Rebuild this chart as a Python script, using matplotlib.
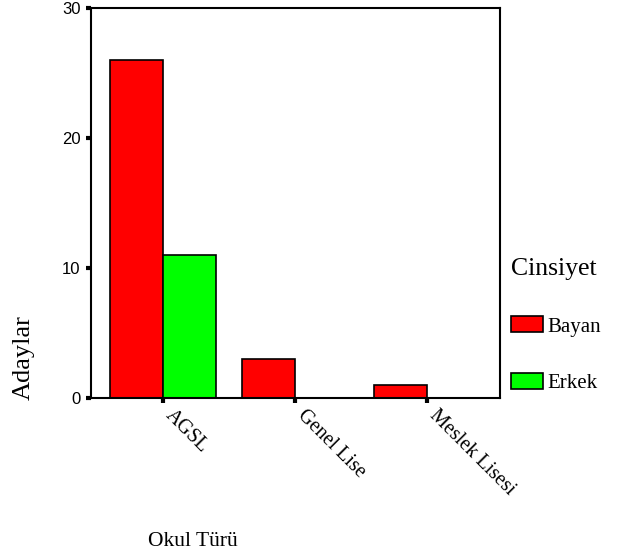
import numpy as np
import matplotlib
matplotlib.use("Agg")
import matplotlib.pyplot as plt
from matplotlib.transforms import ScaledTranslation

# data
categories = ["AGSL", "Genel Lise", "Meslek Lisesi"]
bayan = [26, 3, 1]
erkek = [11, 0, 0]
series_names = ["Bayan", "Erkek"]
yticks = [0, 10, 20, 30]

W, H = 625, 553
fig = plt.figure(figsize=(W / 100, H / 100), dpi=100)
ax = fig.add_axes([91 / W, (H - 398) / H, (500 - 91) / W, 390 / H])

x = np.arange(len(categories))
w = 0.4
b1 = ax.bar(x - w / 2, bayan, w, color="#ff0000", edgecolor="black", linewidth=1.2, label=series_names[0])
b2 = ax.bar(x + w / 2, erkek, w, color="#00ff00", edgecolor="black", linewidth=1.2, label=series_names[1])
# empty bars should not show an outline
for r in b2:
    if r.get_height() == 0:
        r.set_visible(False)

ax.set_xlim(-0.545, 2.553)
ax.set_ylim(0, 30)
ax.set_yticks(yticks)
ax.set_yticklabels([str(t) for t in yticks], fontfamily="Liberation Sans", fontsize=12)
ax.set_xticks(x)
ax.set_xticklabels(categories, rotation=-45, ha="left", va="center", rotation_mode="anchor",
                   fontfamily="Liberation Serif", fontsize=14.5)
ax.tick_params(axis="both", direction="out", length=3.6, width=3, color="black")
ax.tick_params(axis="y", pad=4)
ax.tick_params(axis="x", pad=7)
shift = ScaledTranslation(5 / 100, 0, fig.dpi_scale_trans)
for lab in ax.get_xticklabels():
    lab.set_transform(lab.get_transform() + shift)
for s in ax.spines.values():
    s.set_linewidth(1.5)
    s.set_color("black")

fig.text(24 / W, 1 - 358 / H, "Adaylar", rotation=90, ha="center", va="center",
         fontfamily="Liberation Serif", fontsize=19)
fig.text(148 / W, 1 - 541 / H, "Okul Türü", ha="left", va="center",
         fontfamily="Liberation Serif", fontsize=15.5)

leg = ax.legend(loc="upper left", bbox_to_anchor=(511 / W, 1 - 258 / H),
                bbox_transform=fig.transFigure, frameon=False, title="Cinsiyet",
                prop={"family": "Liberation Serif", "size": 15},
                title_fontproperties={"family": "Liberation Serif", "size": 18.5},
                handlelength=1.55, handleheight=0.8, handletextpad=0.2,
                labelspacing=1.75, borderpad=0, borderaxespad=0, alignment="left")

fig.savefig("out.png", dpi=100)
